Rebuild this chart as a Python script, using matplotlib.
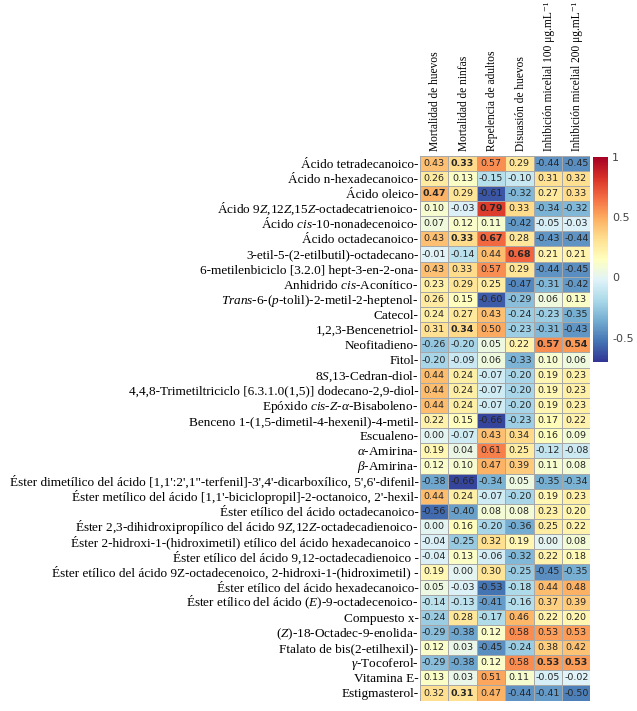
import numpy as np
import matplotlib
matplotlib.use("Agg")
import matplotlib.pyplot as plt
import matplotlib.transforms as mtransforms

plt.rcParams['mathtext.fontset'] = 'custom'
plt.rcParams['mathtext.rm'] = 'Liberation Serif'
plt.rcParams['mathtext.it'] = 'Liberation Serif:italic'

# columns (activities)
actividades = ['Mortalidad de huevos', 'Mortalidad de ninfas', 'Repelencia de adultos',
               'Disuasión de huevos', 'Inhibición micelial 100 μg.mL⁻¹',
               'Inhibición micelial 200 μg.mL⁻¹']

# rows (compounds)
compuestos = [
    'Ácido tetradecanoico',
    'Ácido n-hexadecanoico',
    'Ácido oleico',
    r'Ácido 9$\it{Z}$,12$\it{Z}$,15$\it{Z}$-octadecatrienoico',
    r'Ácido $\it{cis}$-10-nonadecenoico',
    'Ácido octadecanoico',
    '3-etil-5-(2-etilbutil)-octadecano',
    '6-metilenbiciclo [3.2.0] hept-3-en-2-ona',
    r'Anhidrido $\it{cis}$-Aconítico',
    r'$\it{Trans}$-6-($\it{p}$-tolil)-2-metil-2-heptenol',
    'Catecol',
    '1,2,3-Bencenetriol',
    'Neofitadieno',
    'Fitol',
    r'8$\it{S}$,13-Cedran-diol',
    '4,4,8-Trimetiltriciclo [6.3.1.0(1,5)] dodecano-2,9-diol',
    r'Epóxido $\it{cis}$-$\it{Z}$-$\it{α}$-Bisaboleno',
    'Benceno 1-(1,5-dimetil-4-hexenil)-4-metil',
    'Escualeno',
    r'$\it{α}$-Amirina',
    r'$\it{β}$-Amirina',
    "Éster dimetílico del ácido [1,1':2',1\"-terfenil]-3',4'-dicarboxílico, 5',6'-difenil",
    "Éster metílico del ácido [1,1'-biciclopropil]-2-octanoico, 2'-hexil",
    'Éster etílico del ácido octadecanoico',
    r'Éster 2,3-dihidroxipropílico del ácido 9$\it{Z}$,12$\it{Z}$-octadecadienoico',
    'Éster 2-hidroxi-1-(hidroximetil) etílico del ácido hexadecanoico ',
    'Éster etílico del ácido 9,12-octadecadienoico ',
    'Éster etílico del ácido 9Z-octadecenoico, 2-hidroxi-1-(hidroximetil) ',
    'Éster etílico del ácido hexadecanoico',
    r'Éster etílico del ácido ($\it{E}$)-9-octadecenoico',
    'Compuesto x',
    r'($\it{Z}$)-18-Octadec-9-enolida',
    'Ftalato de bis(2-etilhexil)',
    r'$\it{γ}$-Tocoferol',
    'Vitamina E',
    'Estigmasterol',
]

valores = np.array([
    [0.43, 0.33, 0.57, 0.29, -0.44, -0.45],
    [0.26, 0.13, -0.15, -0.10, 0.31, 0.32],
    [0.47, 0.29, -0.61, -0.32, 0.27, 0.33],
    [0.10, -0.03, 0.79, 0.33, -0.34, -0.32],
    [0.07, 0.12, 0.11, -0.42, -0.05, -0.03],
    [0.43, 0.33, 0.67, 0.28, -0.43, -0.44],
    [-0.01, -0.14, 0.44, 0.68, 0.21, 0.21],
    [0.43, 0.33, 0.57, 0.29, -0.44, -0.45],
    [0.23, 0.29, 0.25, -0.47, -0.31, -0.42],
    [0.26, 0.15, -0.60, -0.29, 0.06, 0.13],
    [0.24, 0.27, 0.43, -0.24, -0.23, -0.35],
    [0.31, 0.34, 0.50, -0.23, -0.31, -0.43],
    [-0.26, -0.20, 0.05, 0.22, 0.57, 0.54],
    [-0.20, -0.09, 0.06, -0.33, 0.10, 0.06],
    [0.44, 0.24, -0.07, -0.20, 0.19, 0.23],
    [0.44, 0.24, -0.07, -0.20, 0.19, 0.23],
    [0.44, 0.24, -0.07, -0.20, 0.19, 0.23],
    [0.22, 0.15, -0.66, -0.23, 0.17, 0.22],
    [0.00, -0.07, 0.43, 0.34, 0.16, 0.09],
    [0.19, 0.04, 0.61, 0.25, -0.12, -0.08],
    [0.12, 0.10, 0.47, 0.39, 0.11, 0.08],
    [-0.38, -0.66, -0.34, 0.05, -0.35, -0.34],
    [0.44, 0.24, -0.07, -0.20, 0.19, 0.23],
    [-0.56, -0.40, 0.08, 0.08, 0.23, 0.20],
    [0.00, 0.16, -0.20, -0.36, 0.25, 0.22],
    [-0.04, -0.25, 0.32, 0.19, 0.00, 0.08],
    [-0.04, 0.13, -0.06, -0.32, 0.22, 0.18],
    [0.19, 0.00, 0.30, -0.25, -0.45, -0.35],
    [0.05, -0.03, -0.53, -0.18, 0.44, 0.48],
    [-0.14, -0.13, -0.41, -0.16, 0.37, 0.39],
    [-0.24, 0.28, -0.17, 0.46, 0.22, 0.20],
    [-0.29, -0.38, 0.12, 0.58, 0.53, 0.53],
    [0.12, 0.03, -0.45, -0.24, 0.38, 0.42],
    [-0.29, -0.38, 0.12, 0.58, 0.53, 0.53],
    [0.13, 0.03, 0.51, 0.11, -0.05, -0.02],
    [0.32, 0.31, 0.47, -0.44, -0.41, -0.50],
])

# cells printed in bold (row, col)
negritas = [(0, 1), (2, 0), (3, 2), (5, 1), (5, 2), (6, 3), (11, 1),
            (12, 4), (12, 5), (33, 4), (33, 5), (35, 1)]

fig = plt.figure(figsize=(6.37, 7.11), dpi=100)
ax = fig.add_axes([0.659, 0.0146, 0.268, 0.7665])
cax = fig.add_axes([0.931, 0.491, 0.0235, 0.2885])

nr, nc = valores.shape
mesh = ax.pcolormesh(valores, cmap='RdYlBu_r', vmin=-0.7, vmax=1.0,
                     edgecolors='#a8a8a8', linewidth=0.6)
ax.set_xlim(0, nc)
ax.set_ylim(nr, 0)

for i in range(nr):
    for j in range(nc):
        ax.text(j + 0.5, i + 0.5, '%.2f' % valores[i, j], ha='center', va='center',
                fontsize=6.8, color='#262626',
                fontweight='bold' if (i, j) in negritas else 'normal')

ax.set_xticks([])
ax.set_yticks([])
for s in ax.spines.values():
    s.set_visible(False)

# column labels (rotated, baseline aligned so superscripts don't shift them)
xoff = mtransforms.ScaledTranslation(3.0 / 72, 3.6 / 72, fig.dpi_scale_trans)
for j, nombre in enumerate(actividades):
    ax.text(j + 0.5, 0, nombre, rotation=90, rotation_mode='anchor',
            ha='left', va='baseline', fontsize=8.3,
            family=['Liberation Serif', 'DejaVu Serif'],
            transform=ax.transData + xoff)

# row labels, with the trailing dash as in the original
ytrans = mtransforms.blended_transform_factory(ax.transAxes, ax.transData)
yoff = mtransforms.ScaledTranslation(-1.0 / 72, -3.2 / 72, fig.dpi_scale_trans)
for i, nombre in enumerate(compuestos):
    ax.text(0, i + 0.5, nombre + '-', ha='right', va='baseline', fontsize=9.5,
            family='Liberation Serif', transform=ytrans + yoff)

cb = fig.colorbar(mesh, cax=cax, ticks=[-0.5, 0, 0.5, 1])
cb.ax.set_yticklabels(['-0.5', '0', '0.5', '1'])
cb.ax.tick_params(length=0, labelsize=8, colors='#444444', pad=3)
cb.outline.set_visible(False)

fig.savefig('out.png', dpi=100)
